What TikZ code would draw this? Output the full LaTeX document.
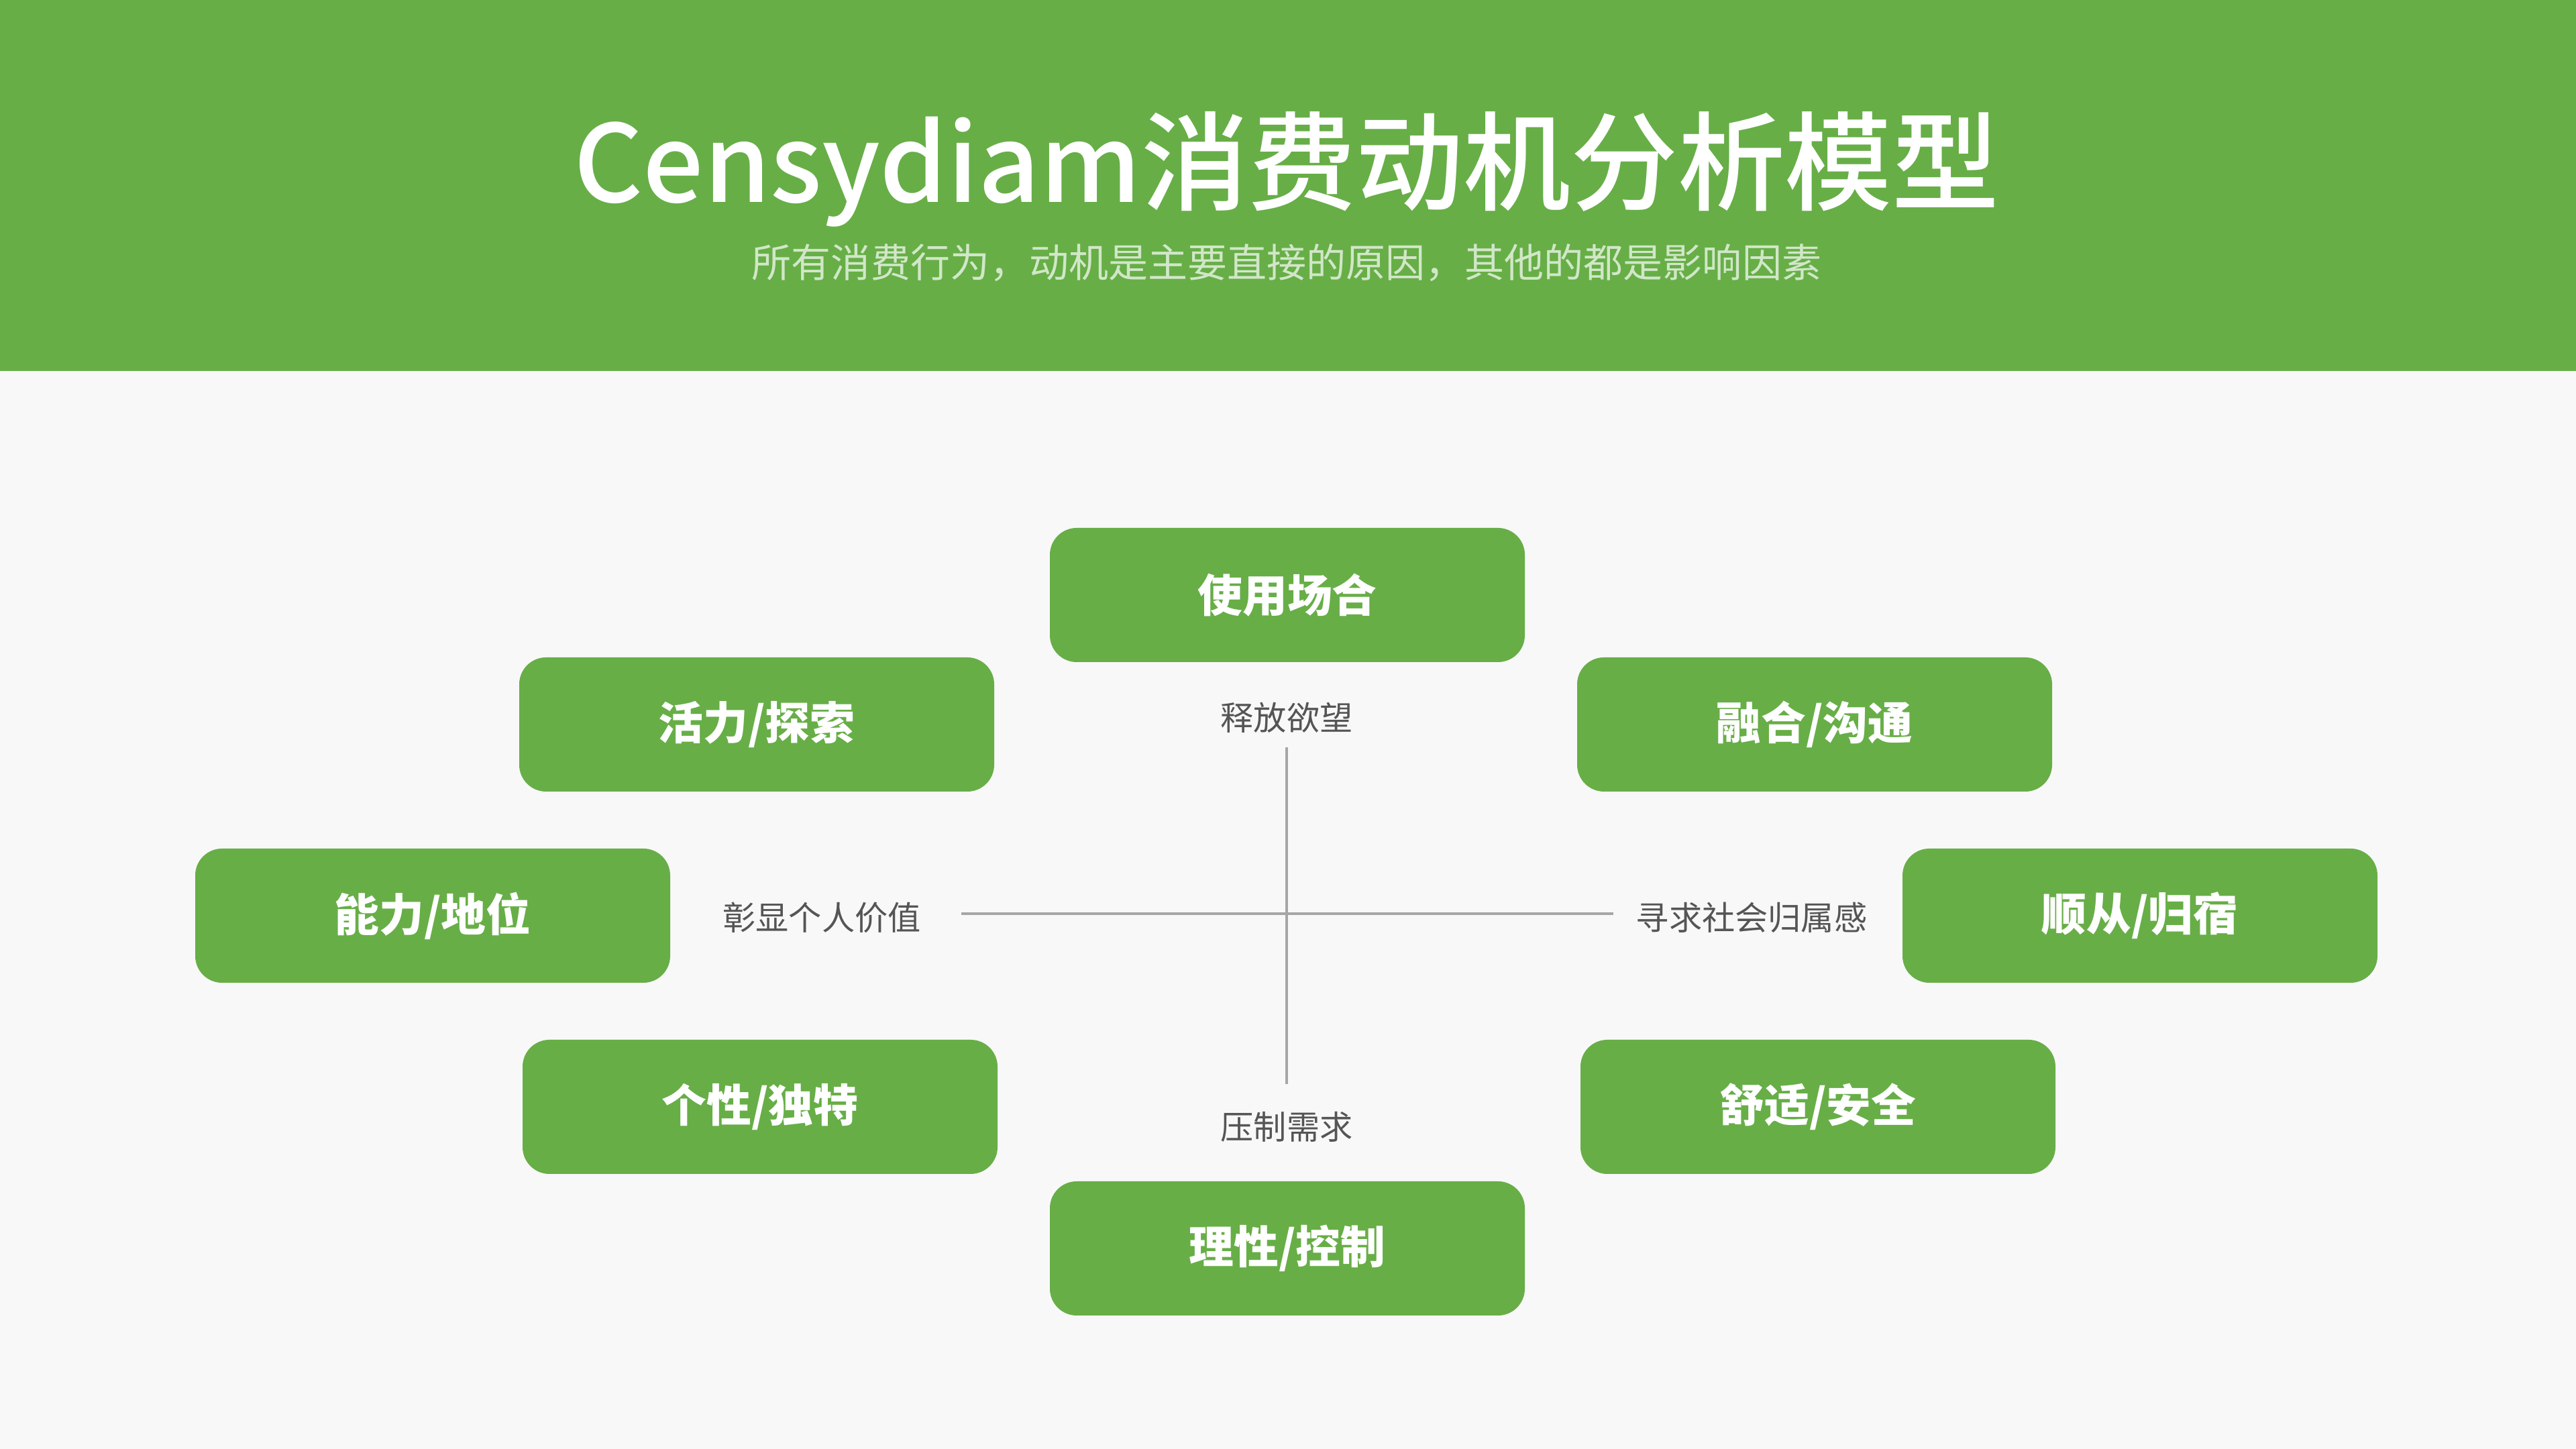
\documentclass[tikz,border=0pt]{standalone}
\usepackage{fontspec}
\setmainfont{Noto Sans CJK SC}[BoldFont=* Black]
\newfontfamily\titlefont{Noto Sans CJK SC Medium}
\definecolor{censgreen}{HTML}{67AE47}
\definecolor{censbg}{HTML}{F8F8F8}
\definecolor{censgray}{HTML}{555555}
\begin{document}
\begin{tikzpicture}[
  motive/.style={fill=censgreen, rounded corners=0.4cm, minimum width=7.08cm, minimum height=2cm, text=white, font=\fontsize{19}{22}\selectfont\bfseries},
  axislabel/.style={text=censgray, font=\fontsize{14}{16}\selectfont},
  axisline/.style={draw=gray!70, line width=1pt}]
\fill[censbg] (0,0) rectangle (38.4,21.6);
\fill[censgreen] (0,16.07) rectangle (38.4,21.6);
\useasboundingbox (0,0) rectangle (38.4,21.6);
\node[text=white, font=\fontsize{45.5}{50}\selectfont\titlefont] (title) at (19.18,19.08) {Censydiam消费动机分析模型};
\node[text=censgreen!30!white, font=\fontsize{16.8}{20}\selectfont] (subtitle) at (19.18,17.68) {所有消费行为，动机是主要直接的原因，其他的都是影响因素};
% motive boxes
\node[motive] (use) at (19.19,12.73) {使用场合};
\node[motive] (vital) at (11.28,10.80) {活力/探索};
\node[motive] (merge) at (27.05,10.80) {融合/沟通};
\node[motive] (power) at (6.45,7.95) {能力/地位};
\node[motive] (obey) at (31.90,7.95) {顺从/归宿};
\node[motive] (unique) at (11.33,5.10) {个性/独特};
\node[motive] (safe) at (27.10,5.10) {舒适/安全};
\node[motive] (reason) at (19.19,2.99) {理性/控制};
% axes
\node[axislabel] (release) at (19.18,10.90) {释放欲望};
\node[axislabel] (repress) at (19.18,4.80) {压制需求};
\node[axislabel] (self) at (12.25,7.92) {彰显个人价值};
\node[axislabel] (belong) at (26.11,7.92) {寻求社会归属感};
\coordinate (axN) at ([yshift=-0.44cm]release.center);
\coordinate (axS) at ([yshift=0.64cm]repress.center);
\coordinate (axW) at ([xshift=2.08cm,yshift=0.06cm]self.center);
\coordinate (axE) at ([xshift=-2.06cm,yshift=0.06cm]belong.center);
\draw[axisline] (axN) -- (axS);
\draw[axisline] (axW) -- (axE);
\end{tikzpicture}
\end{document}
